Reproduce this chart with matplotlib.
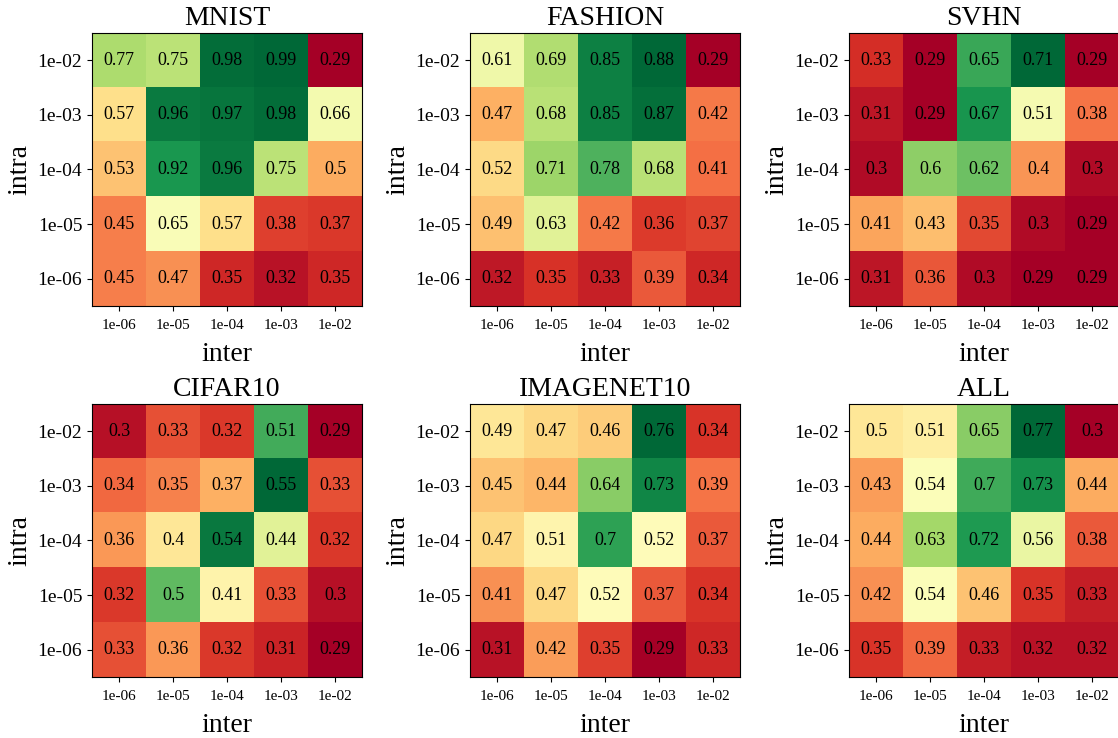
import numpy as np
import matplotlib
matplotlib.use("Agg")
import matplotlib.pyplot as plt

plt.rcParams['font.family'] = ['Liberation Serif', 'DejaVu Serif']

# rows: intra 1e-02 (top) .. 1e-06 (bottom); cols: inter 1e-06 .. 1e-02
intra_labels = ["1e-02", "1e-03", "1e-04", "1e-05", "1e-06"]
inter_labels = ["1e-06", "1e-05", "1e-04", "1e-03", "1e-02"]

mnist = [[0.77, 0.75, 0.98, 0.99, 0.29],
         [0.57, 0.96, 0.97, 0.98, 0.66],
         [0.53, 0.92, 0.96, 0.75, 0.5],
         [0.45, 0.65, 0.57, 0.38, 0.37],
         [0.45, 0.47, 0.35, 0.32, 0.35]]
fashion = [[0.61, 0.69, 0.85, 0.88, 0.29],
           [0.47, 0.68, 0.85, 0.87, 0.42],
           [0.52, 0.71, 0.78, 0.68, 0.41],
           [0.49, 0.63, 0.42, 0.36, 0.37],
           [0.32, 0.35, 0.33, 0.39, 0.34]]
svhn = [[0.33, 0.29, 0.65, 0.71, 0.29],
        [0.31, 0.29, 0.67, 0.51, 0.38],
        [0.3, 0.6, 0.62, 0.4, 0.3],
        [0.41, 0.43, 0.35, 0.3, 0.29],
        [0.31, 0.36, 0.3, 0.29, 0.29]]
cifar10 = [[0.3, 0.33, 0.32, 0.51, 0.29],
           [0.34, 0.35, 0.37, 0.55, 0.33],
           [0.36, 0.4, 0.54, 0.44, 0.32],
           [0.32, 0.5, 0.41, 0.33, 0.3],
           [0.33, 0.36, 0.32, 0.31, 0.29]]
imagenet10 = [[0.49, 0.47, 0.46, 0.76, 0.34],
              [0.45, 0.44, 0.64, 0.73, 0.39],
              [0.47, 0.51, 0.7, 0.52, 0.37],
              [0.41, 0.47, 0.52, 0.37, 0.34],
              [0.31, 0.42, 0.35, 0.29, 0.33]]
all_data = [[0.5, 0.51, 0.65, 0.77, 0.3],
            [0.43, 0.54, 0.7, 0.73, 0.44],
            [0.44, 0.63, 0.72, 0.56, 0.38],
            [0.42, 0.54, 0.46, 0.35, 0.33],
            [0.35, 0.39, 0.33, 0.32, 0.32]]

titles = ["MNIST", "FASHION", "SVHN", "CIFAR10", "IMAGENET10", "ALL"]
datasets = [mnist, fashion, svhn, cifar10, imagenet10, all_data]

fig = plt.figure(figsize=(11.18, 7.38), dpi=100)

col_left = [0.0823, 0.4204, 0.7594]
row_bottom = [0.5854, 0.0827]
w, h = 0.2415, 0.370

for k, (title, data) in enumerate(zip(titles, datasets)):
    r, c = divmod(k, 3)
    ax = fig.add_axes([col_left[c], row_bottom[r], w, h])
    arr = np.array(data)
    ax.imshow(arr, cmap="RdYlGn", aspect="auto", vmin=arr.min(), vmax=arr.max())
    for i in range(arr.shape[0]):
        for j in range(arr.shape[1]):
            ax.text(j, i, f"{arr[i, j]:g}", ha="center", va="center",
                    fontsize=13, color="black")
    ax.set_xticks(range(len(inter_labels)))
    ax.set_xticklabels(inter_labels, fontsize=11)
    ax.set_yticks(range(len(intra_labels)))
    ax.set_yticklabels(intra_labels, fontsize=14)
    ax.tick_params(axis="x", pad=6)
    ax.set_title(title, fontsize=20, pad=6)
    ax.set_xlabel("inter", fontsize=20, labelpad=7)
    ax.set_ylabel("intra", fontsize=20)

fig.savefig("out.png", dpi=100)
